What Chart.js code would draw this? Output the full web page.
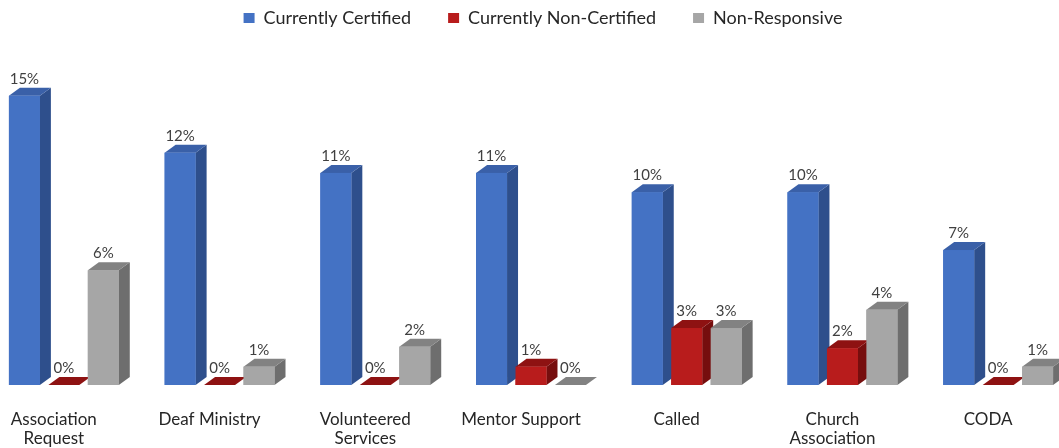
<!DOCTYPE html>
<html><head><meta charset="utf-8">
<script src="https://cdn.jsdelivr.net/npm/chart.js@4"></script>
<style>
html,body{margin:0;padding:0;background:#fff;overflow:hidden;width:1059px;height:448px;}
#wrap{position:absolute;left:-14px;top:0;width:1090px;height:448px;}
</style></head><body>
<div id="wrap"><canvas id="c" width="1090" height="448"></canvas></div>
<script>
// ---- data ----
const categories = [["Association","Request"], "Deaf Ministry", ["Volunteered","Services"], "Mentor Support", "Called", ["Church","Association"], "CODA"];
const seriesNames = ["Currently Certified", "Currently Non-Certified", "Non-Responsive"];
const certified     = [15.0, 12.05, 11.0, 11.0, 10.0, 10.0, 7.0];
const nonCertified  = [0, 0, 0, 0.95, 2.95, 1.9, 0];
const nonResponsive = [5.95, 0.95, 1.98, 0, 2.95, 3.9, 0.95];

// ---- styles ----
const frontColors = ["#4472C4", "#B81C1C", "#A6A6A6"];
const topColors   = ["#3A60A8", "#8E1212", "#828282"];
const sideColors  = ["#2E4F8C", "#760E0E", "#6E6E6E"];
const DEPTH_X = 11, DEPTH_Y = -8;
const LEGEND_SHIFT = 12;

function poly(ctx, pts, color) {
  ctx.beginPath();
  ctx.moveTo(pts[0][0], pts[0][1]);
  for (let k = 1; k < pts.length; k++) ctx.lineTo(pts[k][0], pts[k][1]);
  ctx.closePath();
  ctx.fillStyle = color;
  ctx.fill();
}

const bars3d = {
  id: 'bars3d',
  afterLayout(chart) {
    if (chart.legend) { chart.legend.left += LEGEND_SHIFT; chart.legend.right += LEGEND_SHIFT; }
  },
  afterDatasetsDraw(chart) {
    const ctx = chart.ctx;
    const n = chart.data.labels.length;
    ctx.save();
    for (let i = 0; i < n; i++) {
      chart.data.datasets.forEach((ds, d) => {
        const el = chart.getDatasetMeta(d).data[i];
        if (!el) return;
        const x0 = el.x - el.width / 2, x1 = el.x + el.width / 2;
        const base = el.base, top = Math.min(el.y, el.base);
        if (base - top > 0.5) {
          poly(ctx, [[x1, top], [x1 + DEPTH_X, top + DEPTH_Y], [x1 + DEPTH_X, base + DEPTH_Y], [x1, base]], sideColors[d]);
        }
        poly(ctx, [[x0, top], [x0 + DEPTH_X, top + DEPTH_Y], [x1 + DEPTH_X, top + DEPTH_Y], [x1, top]], topColors[d]);
        if (base - top > 0.5) {
          ctx.fillStyle = frontColors[d];
          ctx.fillRect(x0, top, x1 - x0, base - top);
        }
      });
    }
    ctx.font = "15px Lato";
    ctx.fillStyle = "#404040";
    ctx.textAlign = "center";
    ctx.textBaseline = "alphabetic";
    chart.data.datasets.forEach((ds, d) => {
      chart.getDatasetMeta(d).data.forEach((el, i) => {
        const v = ds.data[i];
        ctx.fillText(Math.round(v) + "%", el.x, Math.min(el.y, el.base) - 12);
      });
    });
    ctx.restore();
  }
};

new Chart(document.getElementById('c'), {
  type: 'bar',
  data: {
    labels: categories,
    datasets: [
      { label: seriesNames[0], data: certified, backgroundColor: frontColors[0] },
      { label: seriesNames[1], data: nonCertified, backgroundColor: frontColors[1] },
      { label: seriesNames[2], data: nonResponsive, backgroundColor: frontColors[2] }
    ]
  },
  options: {
    responsive: false,
    animation: false,
    categoryPercentage: 0.76,
    barPercentage: 0.785,
    layout: { padding: { top: -28, left: 0, right: 0, bottom: 0 } },
    plugins: {
      legend: {
        position: 'top',
        labels: { font: { family: 'Lato', size: 18 }, color: '#262626', boxWidth: 11, boxHeight: 10, padding: 37 }
      },
      tooltip: { enabled: false }
    },
    scales: {
      x: {
        grid: { display: false, drawTicks: false },
        border: { display: false },
        ticks: { font: { family: 'Lato', size: 17, lineHeight: 1.12 }, color: '#262626', padding: 25, labelOffset: -10, autoSkip: false, maxRotation: 0, minRotation: 0 },
        afterFit(scale) { scale.height = 63; }
      },
      y: { display: false, min: 0, max: 18.05 }
    }
  },
  plugins: [bars3d]
});
</script>
</body></html>
